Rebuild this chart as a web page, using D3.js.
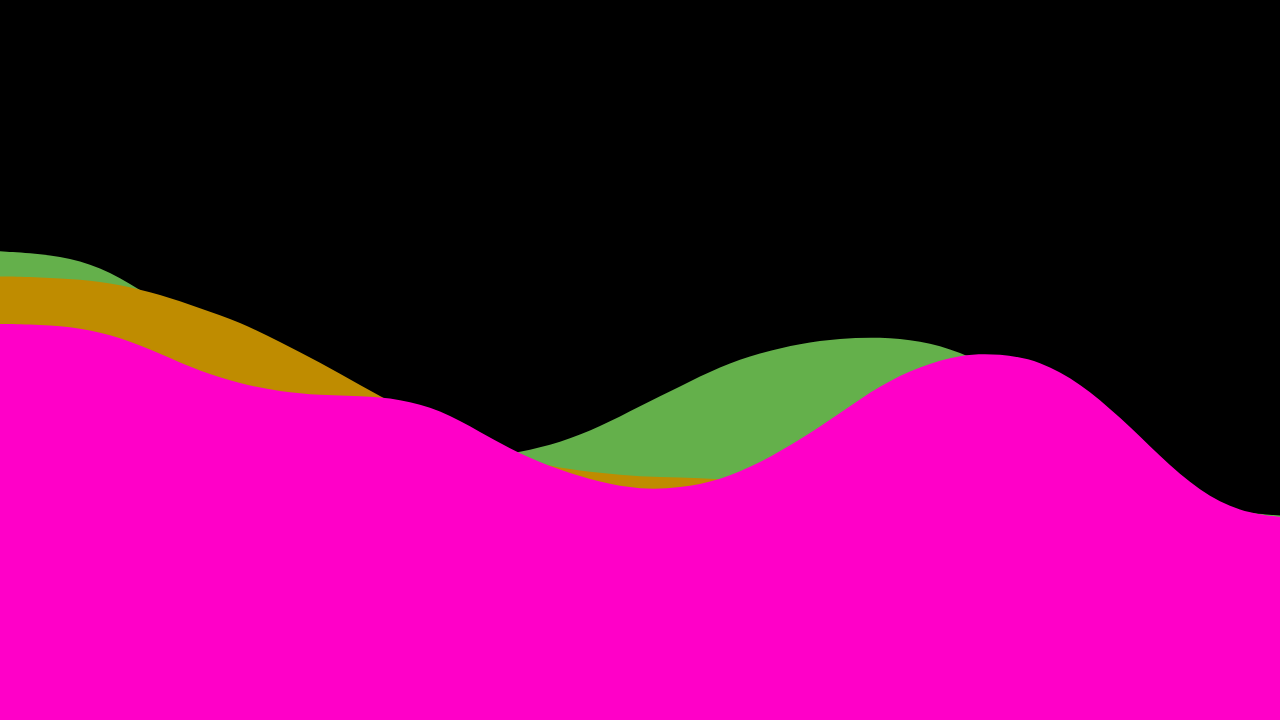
<!DOCTYPE html>
<html>
<head>
<meta charset="utf-8">
<script src="https://cdn.jsdelivr.net/npm/d3@7"></script>
<style>
  html, body { margin: 0; padding: 0; background: #000; overflow: hidden; }
  svg { display: block; }
</style>
</head>
<body>
<svg id="chart" width="1280" height="720"></svg>
<script>
// category positions (steps along the x axis)
const steps = [0,1,2,3,4,5,6,7,8,9,10,11,12,13,14,15,16,17,18,19,20,21,22,23,24,25,26,27,28,29,30,31,32];

// series values (0-100 scale)
const greenValues = [65.1,64.8,63.9,61.6,57.9,54.4,50.7,46.5,43.1,40.3,38.2,36.8,36.3,37.2,38.5,40.7,43.6,46.3,49.1,51.0,52.3,53.0,53.2,52.7,51.2,48.3,44.4,40.3,36.1,32.6,30.1,28.8,28.4];
const goldValues = [61.6,61.5,61.2,60.5,59.1,57.2,55.3,52.5,49.7,46.5,43.5,40.6,37.9,36.2,35.0,34.3,33.8,33.7,33.4,33.3,33.6,34.4,35.4,36.4,36.8,36.4,35.4,34.0,31.9,29.9,28.5,27.8,27.5];
const magentaValues = [55.0,54.9,54.5,53.2,50.9,48.4,46.7,45.6,45.1,45.0,44.6,43.1,40.0,36.9,34.7,33.0,32.0,32.2,33.3,35.7,38.9,42.6,46.5,49.1,50.8,50.9,49.9,46.8,42.1,36.6,31.7,28.9,28.2];

const seriesNames = ["green", "gold", "magenta"];
const seriesColors = ["#64b04b", "#bf8c00", "#ff00c8"];

const width = 1280, height = 720;
const svg = d3.select("#chart");

svg.append("rect").attr("width", width).attr("height", height).attr("fill", "#000");

const x = d3.scaleLinear().domain([steps[0], steps[steps.length - 1]]).range([0, width]);
const y = d3.scaleLinear().domain([0, 100]).range([height, 0]);

const series = [greenValues, goldValues, magentaValues].map((vals, i) => ({
  name: seriesNames[i],
  color: seriesColors[i],
  points: steps.map((s, j) => ({ s, v: vals[j] }))
}));

const area = d3.area()
  .x(d => x(d.s))
  .y0(y(0))
  .y1(d => y(d.v))
  .curve(d3.curveBasis);

svg.selectAll("path.area")
  .data(series)
  .join("path")
  .attr("class", "area")
  .attr("fill", d => d.color)
  .attr("d", d => area(d.points));
</script>
</body>
</html>
